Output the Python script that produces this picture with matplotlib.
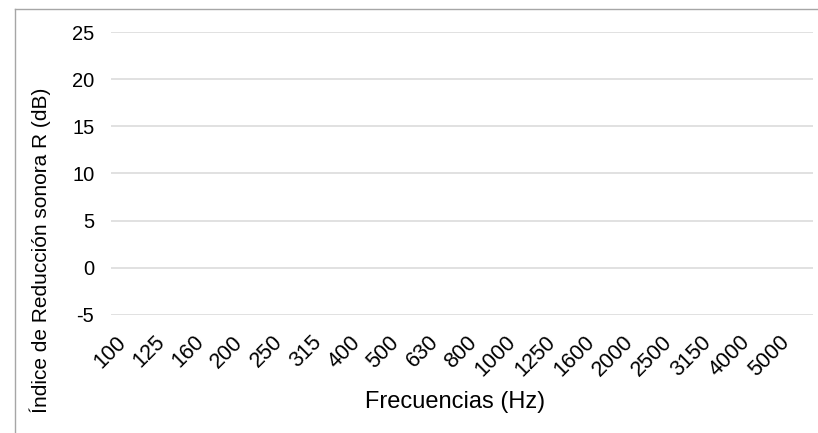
import matplotlib.pyplot as plt
import matplotlib.transforms as mtransforms
from matplotlib.lines import Line2D

# bandas de tercio de octava (el gráfico no tiene series dibujadas)
frecuencias = ["100", "125", "160", "200", "250", "315", "400", "500", "630", "800",
               "1000", "1250", "1600", "2000", "2500", "3150", "4000", "5000"]
y_ticks = [-5, 0, 5, 10, 15, 20, 25]

plt.rcParams['font.family'] = ['Liberation Sans', 'DejaVu Sans']
plt.rcParams['axes.unicode_minus'] = False

W, H = 818, 433
fig = plt.figure(figsize=(W / 100, H / 100), dpi=100)
ax = fig.add_axes([111 / W, 1 - 315 / H, (813 - 111) / W, (315 - 32) / H])

ax.set_xlim(-0.5, len(frecuencias) - 0.5)
ax.set_ylim(min(y_ticks), max(y_ticks))
ax.set_yticks(y_ticks)
ax.set_xticks(range(len(frecuencias)))
ax.set_xticklabels(frecuencias, rotation=45, ha='right', va='top')

# las etiquetas de Excel quedan algo a la derecha de la marca
desplazamiento = mtransforms.ScaledTranslation(4 / 100, 0, fig.dpi_scale_trans)
for lbl in ax.get_xticklabels():
    lbl.set_transform(lbl.get_transform() + desplazamiento)

ax.grid(axis='y', color='#d9d9d9', linewidth=1.1)
ax.set_axisbelow(True)
for s in ax.spines.values():
    s.set_visible(False)
ax.tick_params(axis='y', length=0, labelsize=14.5, pad=12)
ax.tick_params(axis='x', length=0, labelsize=15.5, pad=12)

ax.set_xlabel("Frecuencias (Hz)", fontsize=17, labelpad=8)
ax.xaxis.set_label_coords(0.49, -0.27)
fig.text(40 / W, 1 - 250 / H, "Índice de Reducción sonora R (dB)",
         rotation=90, ha='center', va='center', fontsize=15)

# marco del área del gráfico (recortado a la derecha y abajo)
fig.add_artist(Line2D([15 / W, 1], [1 - 9 / H, 1 - 9 / H], transform=fig.transFigure,
                      color='#a6a6a6', linewidth=1))
fig.add_artist(Line2D([15 / W, 15 / W], [0, 1 - 9 / H], transform=fig.transFigure,
                      color='#a6a6a6', linewidth=1))

fig.savefig("out.png", dpi=100, facecolor='white')
